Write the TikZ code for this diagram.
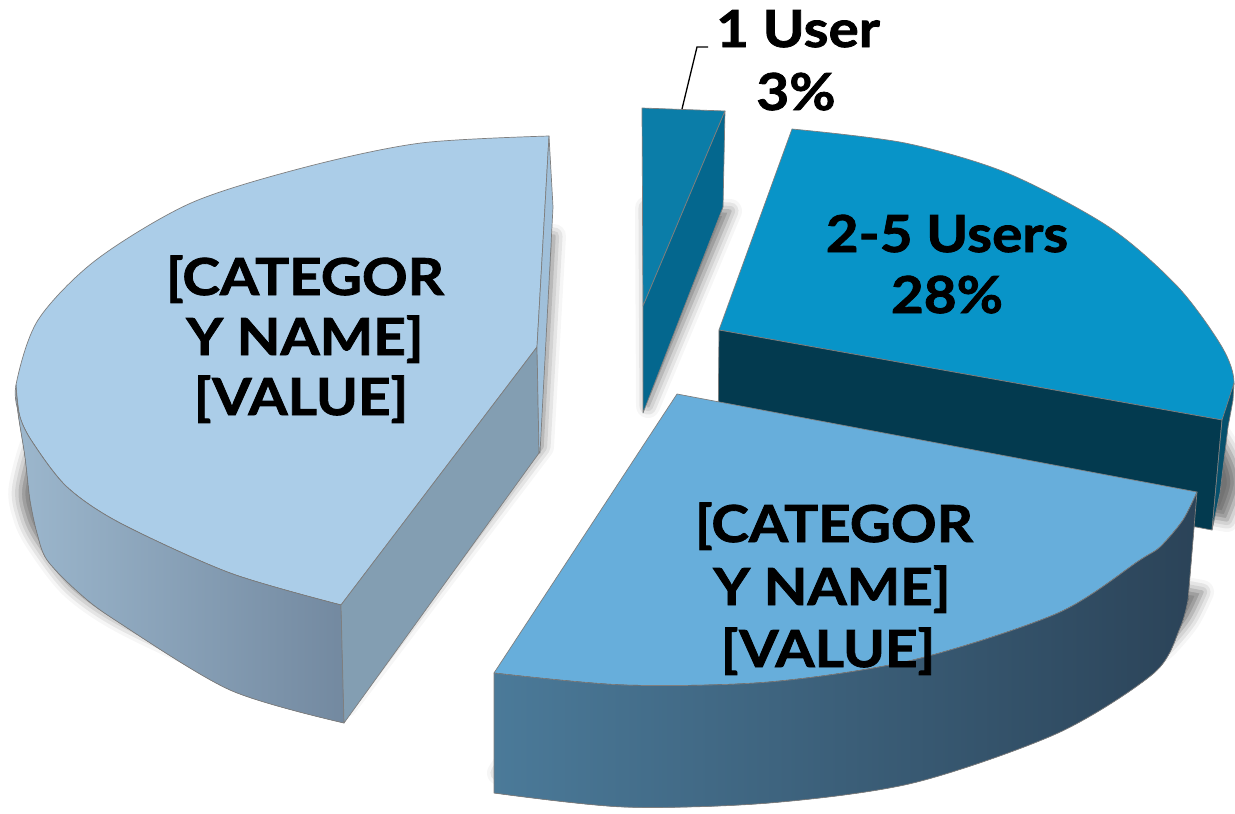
\documentclass[tikz,border=0pt]{standalone}
\usepackage{fontspec}
\newfontfamily\lblfont{Lato}[FakeStretch=1.11, FakeBold=1.6]
\usetikzlibrary{shadows.blur}

% slice colours
\definecolor{leftTop}{HTML}{ABCDE8}
\definecolor{leftCut}{HTML}{839EB2}
\definecolor{leftStrip}{HTML}{A0C0DA}
\definecolor{leftWallA}{HTML}{9CB7CD}
\definecolor{leftWallB}{HTML}{7389A0}
\definecolor{botTop}{HTML}{67AEDB}
\definecolor{botWallA}{HTML}{4B7A99}
\definecolor{botWallM}{HTML}{2F4C63}
\definecolor{botWallB}{HTML}{2B4358}
\definecolor{midTop}{HTML}{0894C8}
\definecolor{midFront}{HTML}{033A4F}
\definecolor{midSide}{HTML}{06506C}
\definecolor{oneTop}{HTML}{0B7DA8}
\definecolor{oneSide}{HTML}{04678E}
\definecolor{edgegray}{HTML}{7F7F7F}

\begin{document}
\begin{tikzpicture}[x=1pt,y=-1pt,
  edge/.style={draw=edgegray, line width=0.7pt, line join=round},
  slab shadow/.style={blur shadow={shadow xshift=5pt, shadow yshift=-100pt,
      shadow blur radius=12pt, shadow opacity=55}},
  lbl/.style={font=\lblfont\bfseries\fontsize{51}{61}\selectfont,
      inner sep=0pt, anchor=base, text=black}]
\useasboundingbox (0,0) rectangle (1235,814);

% ---- 2-5 Users slice (back right) ----
\fill[midTop, edge, slab shadow] (792,129) -- plot[smooth] coordinates
  {(792,129) (905,143) (1007,173) (1109,227) (1178,287) (1222,347) (1234,383) (1222,420)}
  -- (719,330) -- cycle;
\fill[midFront, edge] (719,330) -- (1222,420) -- (1212,530) -- (718,437) -- cycle;
\fill[midSide, edge] (1222,420) -- (1234,383) -- (1233,400) -- (1228,427)
  -- (1220,493) -- (1212,530) -- cycle;

% ---- 1 User slice (thin wedge at the top) ----
\fill[oneTop, edge, slab shadow] (642,108) -- (725,111) -- (643,306) -- cycle;
\fill[oneSide, edge] (725,111) -- (723,207) -- (643,413) -- (643,306) -- cycle;

% ---- large slice on the left ----
\fill[leftTop, edge, slab shadow] plot[smooth] coordinates
  {(549,136) (421,143) (306,167) (191,203) (96,260) (38,320) (16,385) (20,417)
   (33,443) (67,487) (120,523) (230,573) (341,605)}
  -- (537,347) -- cycle;
\fill[left color=leftWallA, right color=leftWallB, edge] plot[smooth] coordinates
  {(16,385) (20,417) (33,443) (67,487) (120,523) (230,573) (341,605)}
  -- (344,723) -- plot[smooth] coordinates
  {(344,723) (230,690) (115,620) (78,592) (47,560) (37,533) (30,500) (25,457) (18,413) (16,385)}
  -- cycle;
\fill[leftCut, edge] (537,347) -- (341,605) -- (344,723) -- (539,453) -- cycle;
\fill[leftStrip, edge] (549,136) -- (553,207) -- (540,453) -- (539,453) -- (537,347) -- cycle;

% ---- front slice at the bottom ----
\fill[botTop, edge, slab shadow] (677,394) -- (1197,492) -- plot[smooth] coordinates
  {(1197,492) (1183,520) (1160,547) (1140,560) (1058,613) (913,660) (769,682) (624,685) (494,673)}
  -- cycle;
\fill[left color=botWallA, middle color=botWallM, right color=botWallB, edge]
  plot[smooth] coordinates
  {(494,673) (624,685) (769,682) (913,660) (1058,613) (1140,560) (1160,547) (1183,520) (1197,492)}
  -- (1188,600) -- plot[smooth] coordinates
  {(1188,600) (1180,628) (1154,673) (1058,733) (913,783) (769,803) (624,807) (494,793)}
  -- cycle;

% ---- data labels ----
\node[lbl] (leftA) at (305,295) {[CATEGOR};
\node[lbl] (leftB) at (305,355) {Y NAME]};
\node[lbl] (leftC) at (301,415) {[VALUE]};

\node[lbl] (midA) at (947,252) {2-5 Users};
\node[lbl] (midB) at (947,313) {28\%};

\node[lbl] (botA) at (834,542) {[CATEGOR};
\node[lbl] (botB) at (832,605) {Y NAME]};
\node[lbl] (botC) at (828,667) {[VALUE]};

\node[lbl] (oneA) at (798,47) {1 User};
\node[lbl] (oneB) at (796,110) {3\%};

% leader line of the small slice
\coordinate (leadFoot) at (682,109);
\coordinate (leadBend) at (697,47);
\coordinate (leadEnd) at (708,47);
\draw[line width=1.3pt] (leadFoot) -- (leadBend) -- (leadEnd);
\end{tikzpicture}
\end{document}
